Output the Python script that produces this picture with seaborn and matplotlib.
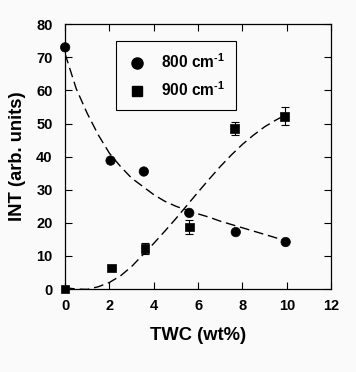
import matplotlib
matplotlib.use("Agg")
import matplotlib.pyplot as plt
from matplotlib.lines import Line2D
import seaborn as sns
import pandas as pd

# ---- data ----
series_names = ["800 cm$^{\\text{-1}}$", "900 cm$^{\\text{-1}}$"]
twc_800 = [0.0, 2.05, 3.55, 5.6, 7.7, 9.95]
int_800 = [73.0, 38.8, 35.5, 23.0, 17.2, 14.2]
twc_900 = [0.0, 2.1, 3.6, 5.6, 7.65, 9.9]
int_900 = [0.0, 6.3, 12.2, 18.8, 48.5, 52.2]
err_900 = [0.0, 0.0, 1.7, 2.1, 1.9, 2.8]

# dashed fit curves
curve_x = [0.0, 0.5, 1.0, 1.5, 2.0, 2.5, 3.0, 3.5, 4.0, 4.5, 5.0,
           5.5, 6.0, 6.5, 7.0, 7.5, 8.0, 8.5, 9.0, 9.5, 10.0]
curve_800 = [71.0, 60.5, 53.0, 46.5, 41.0, 37.0, 33.5, 31.0, 28.5, 26.5, 25.0,
             23.8, 22.7, 21.7, 20.5, 19.5, 18.5, 17.5, 16.5, 15.5, 14.5]
curve_900 = [0.4, 0.0, -0.1, 0.7, 2.0, 4.0, 6.8, 10.3, 13.8, 17.5, 21.3,
             25.3, 29.3, 33.2, 37.0, 40.5, 43.7, 46.5, 49.0, 51.0, 52.8]

x_ticks = [0, 2, 4, 6, 8, 10, 12]
y_ticks = [0, 10, 20, 30, 40, 50, 60, 70, 80]
x_label = "TWC (wt%)"
y_label = "INT (arb. units)"

# ---- build tables ----
pts = pd.DataFrame({
    "twc": twc_800 + twc_900,
    "int": int_800 + int_900,
    "series": [series_names[0]] * len(twc_800) + [series_names[1]] * len(twc_900),
})
curves = pd.DataFrame({
    "twc": curve_x + curve_x,
    "int": curve_800 + curve_900,
    "series": [series_names[0]] * len(curve_x) + [series_names[1]] * len(curve_x),
})

sns.set_theme(style="ticks")
plt.rcParams["font.family"] = ["Liberation Sans", "DejaVu Sans"]
plt.rcParams["font.weight"] = "bold"
plt.rcParams["text.color"] = "black"
plt.rcParams["axes.labelcolor"] = "black"
plt.rcParams["xtick.color"] = "black"
plt.rcParams["ytick.color"] = "black"
plt.rcParams["mathtext.fontset"] = "custom"
plt.rcParams["mathtext.rm"] = "Liberation Sans:bold"
plt.rcParams["mathtext.bf"] = "Liberation Sans:bold"
plt.rcParams["mathtext.it"] = "Liberation Sans:bold"
plt.rcParams["mathtext.default"] = "bf"

bg = "#fafafa"
fig = plt.figure(figsize=(3.56, 3.72), dpi=100, facecolor=bg)
ax = fig.add_axes([0.183, 0.223, 0.747, 0.712])
ax.set_facecolor(bg)

sns.lineplot(data=curves, x="twc", y="int", units="series", estimator=None,
             color="black", linewidth=1.0, dashes=False, ax=ax, legend=False,
             sort=False)
for line in ax.get_lines():
    line.set_dashes((7, 3.5))

ax.errorbar(twc_900, int_900, yerr=err_900, fmt="none", ecolor="black",
            elinewidth=0.8, capsize=3, capthick=0.8, zorder=3)

sns.scatterplot(data=pts, x="twc", y="int", style="series", size="series",
                markers={series_names[0]: "o", series_names[1]: "s"},
                sizes={series_names[0]: 46, series_names[1]: 38},
                color="black", edgecolor="black", ax=ax, legend=False,
                zorder=4)
for c in ax.collections:
    c.set_clip_on(False)

ax.set_xlim(0, 12)
ax.set_ylim(0, 80)
ax.set_xticks(x_ticks)
ax.set_yticks(y_ticks)
ax.tick_params(direction="in", top=True, right=True, length=5, width=0.8,
               labelsize=10.5, colors="black")
ax.tick_params(axis="x", pad=7)
ax.tick_params(axis="y", pad=9)
for lab in ax.get_xticklabels() + ax.get_yticklabels():
    lab.set_fontweight("bold")
for sp in ax.spines.values():
    sp.set_linewidth(0.9)
    sp.set_color("black")

ax.set_xlabel(x_label, fontsize=13.2, fontweight="bold", labelpad=10)
ax.set_ylabel(y_label, fontsize=13.2, fontweight="bold", labelpad=7)

handles = [
    Line2D([], [], linestyle="none", marker="o", color="black", markersize=8),
    Line2D([], [], linestyle="none", marker="s", color="black", markersize=6.5),
]
leg = ax.legend(handles, series_names, loc="upper left",
                bbox_to_anchor=(0.19, 0.935), frameon=True, fancybox=False,
                edgecolor="black", framealpha=1, facecolor=bg,
                prop={"weight": "bold", "size": 11.2},
                borderpad=0.7, labelspacing=0.6, handletextpad=0.9,
                borderaxespad=0, handlelength=1.3)
leg.get_frame().set_linewidth(0.8)

fig.savefig("out.png", dpi=100, facecolor=bg)
